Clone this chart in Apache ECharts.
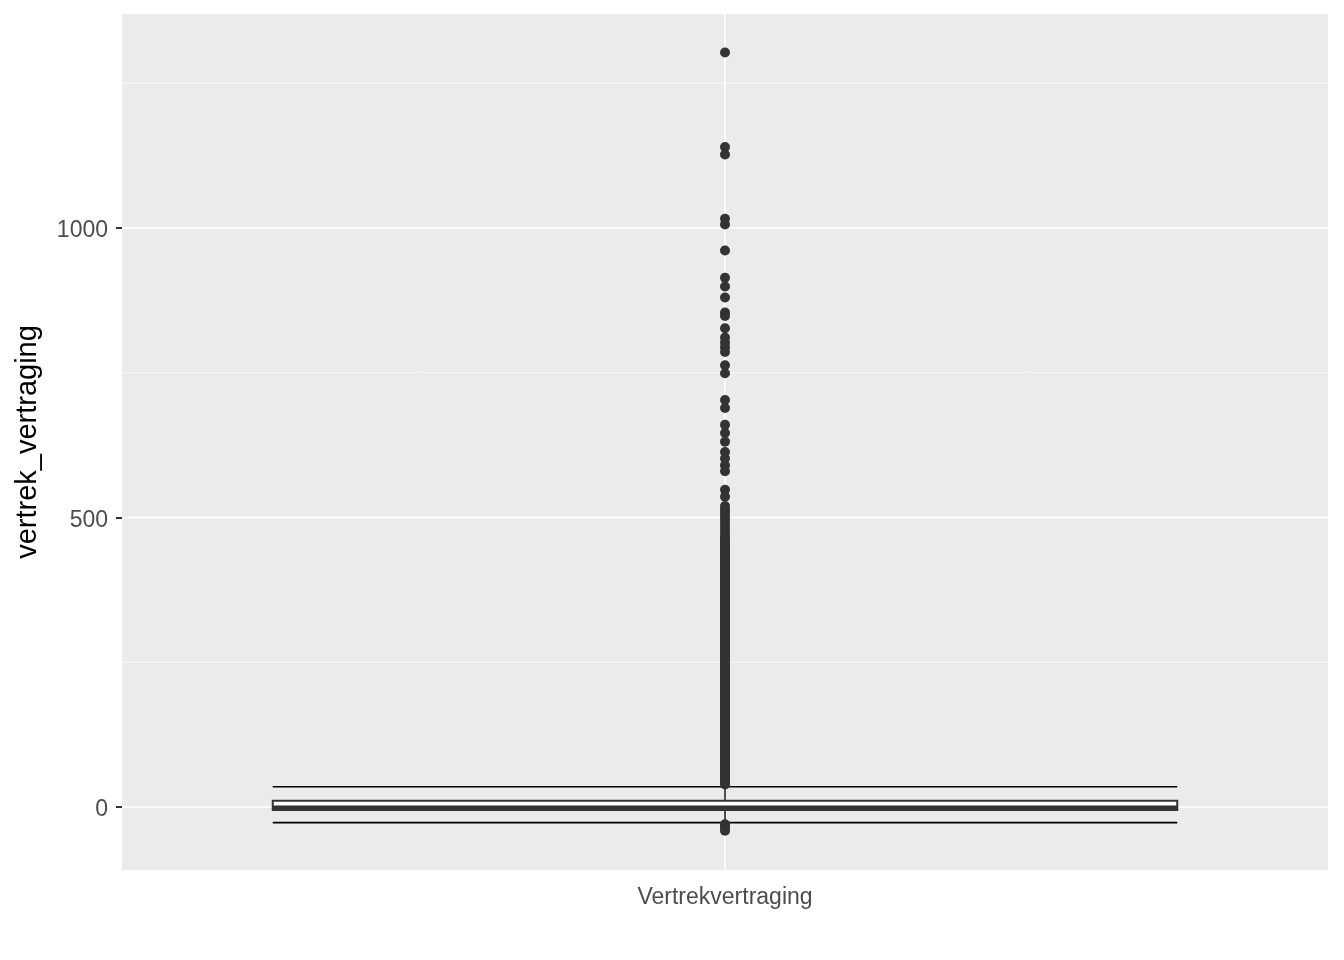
<!DOCTYPE html>
<html>
<head>
<meta charset="utf-8">
<script src="https://cdn.jsdelivr.net/npm/echarts@6/dist/echarts.min.js"></script>
<style>html,body{margin:0;padding:0;background:#fff;}#chart{width:1344px;height:960px;}</style>
</head>
<body>
<div id="chart"></div>
<script>
const categories = ['Vertrekvertraging'];
// lower whisker, Q1, median, Q3, upper whisker
const boxStats = [-27, -5, -1, 11, 35];
const outliersHigh = [1303, 1140, 1127, 1016, 1006, 961, 914, 899, 880, 854, 848, 827, 811, 802, 794, 786,
  763, 749, 703, 689, 660, 646, 631, 613, 602, 590, 580, 548, 536,
  520, 514, 508, 502, 496, 490, 484, 478, 472, 466,
  462,459,456,453,450,447,444,441,438,435,432,429,426,423,420,417,414,411,408,405,402,399,396,393,390,387,384,381,378,375,372,369,366,363,360,357,354,351,348,345,342,339,336,333,330,327,324,321,318,315,312,309,306,303,300,297,294,291,288,285,282,279,276,273,270,267,264,261,258,255,252,249,246,243,240,237,234,231,228,225,222,219,216,213,210,207,204,201,198,195,192,189,186,183,180,177,174,171,168,165,162,159,156,153,150,147,144,141,138,135,132,129,126,123,120,117,114,111,108,105,102,99,96,93,90,87,84,81,78,75,72,69,66,63,60,57,54,51,48,45,42,39];
const outliersLow = [-30, -33, -37, -41];
const majorTicks = [0, 500, 1000];
const minorGrid = [250, 750, 1250];
const yRange = [-108.8, 1369.6];

const chart = echarts.init(document.getElementById('chart'));

const gridLines = majorTicks.map(v => [v, 1]).concat(minorGrid.map(v => [v, 0]));
const FONT = 'Liberation Sans, Arial, sans-serif';

const option = {
  animation: false,
  grid: { left: 122, right: 16, top: 14, bottom: 90, show: true, backgroundColor: '#EBEBEB', borderWidth: 0, containLabel: false, outerBoundsMode: 'none' },
  xAxis: {
    type: 'category',
    data: categories,
    boundaryGap: true,
    axisLine: { show: false },
    axisTick: { show: true, alignWithLabel: true, length: 6, lineStyle: { color: '#333333', width: 2 } },
    axisLabel: { color: '#4D4D4D', fontSize: 23, margin: 16, fontFamily: FONT },
    splitLine: { show: false }
  },
  yAxis: {
    type: 'value',
    min: yRange[0],
    max: yRange[1],
    name: 'vertrek_vertraging',
    nameLocation: 'middle',
    nameGap: 80,
    nameTextStyle: { color: '#000000', fontSize: 29, fontFamily: FONT },
    axisLine: { show: false },
    axisTick: { show: true, customValues: majorTicks, length: 6, lineStyle: { color: '#333333', width: 2 } },
    axisLabel: {
      customValues: majorTicks,
      formatter: v => '{t|' + v + '}',
      margin: 14,
      rich: { t: { color: '#4D4D4D', fontSize: 23, fontFamily: FONT, padding: [6, 0, 0, 0] } }
    },
    splitLine: { show: false }
  },
  series: [
    {
      type: 'custom',
      z: 1,
      silent: true,
      data: gridLines,
      encode: { y: 0 },
      renderItem: function (params, api) {
        const cs = params.coordSys;
        const y = api.coord([0, api.value(0)])[1];
        const major = api.value(1) === 1;
        return {
          type: 'line',
          shape: { x1: cs.x, y1: y, x2: cs.x + cs.width, y2: y },
          style: { stroke: '#FFFFFF', lineWidth: major ? 1.5 : 0.75 }
        };
      }
    },
    {
      type: 'custom',
      z: 1,
      silent: true,
      data: categories.map((c, i) => [i]),
      encode: { x: 0 },
      renderItem: function (params, api) {
        const cs = params.coordSys;
        const x = api.coord([api.value(0), 0])[0];
        return {
          type: 'line',
          shape: { x1: x, y1: cs.y, x2: x, y2: cs.y + cs.height },
          style: { stroke: '#FFFFFF', lineWidth: 1.6 }
        };
      }
    },
    {
      type: 'custom',
      z: 2,
      silent: true,
      data: categories.map((c, i) => [i].concat(boxStats)),
      encode: { x: 0, y: [1, 2, 3, 4, 5] },
      renderItem: function (params, api) {
        const xi = api.value(0);
        const band = api.size([1, 0])[0];
        const w = band * 0.75;
        const cx = api.coord([xi, 0])[0];
        const yLo = api.coord([xi, api.value(1)])[1];
        const yQ1 = api.coord([xi, api.value(2)])[1];
        const yMed = api.coord([xi, api.value(3)])[1];
        const yQ3 = api.coord([xi, api.value(4)])[1];
        const yHi = api.coord([xi, api.value(5)])[1];
        const x0 = cx - w / 2, x1 = cx + w / 2;
        return {
          type: 'group',
          children: [
            { type: 'line', shape: { x1: x0, y1: yHi, x2: x1, y2: yHi }, style: { stroke: '#000000', lineWidth: 1.7 } },
            { type: 'line', shape: { x1: x0, y1: yLo, x2: x1, y2: yLo }, style: { stroke: '#000000', lineWidth: 1.7 } },
            { type: 'line', shape: { x1: cx, y1: yQ3, x2: cx, y2: yHi }, style: { stroke: '#333333', lineWidth: 1.7 } },
            { type: 'line', shape: { x1: cx, y1: yQ1, x2: cx, y2: yLo }, style: { stroke: '#333333', lineWidth: 1.7 } },
            { type: 'rect', shape: { x: x0, y: yQ3, width: w, height: yQ1 - yQ3 }, style: { fill: '#FFFFFF', stroke: '#333333', lineWidth: 2 } },
            { type: 'line', shape: { x1: x0, y1: yMed, x2: x1, y2: yMed }, style: { stroke: '#333333', lineWidth: 4 } }
          ]
        };
      }
    },
    {
      type: 'scatter',
      z: 3,
      silent: true,
      symbol: 'circle',
      symbolSize: 10,
      itemStyle: { color: '#333333', opacity: 1 },
      data: outliersHigh.concat(outliersLow).map(v => [categories[0], v])
    }
  ]
};
chart.setOption(option);
</script>
</body>
</html>
